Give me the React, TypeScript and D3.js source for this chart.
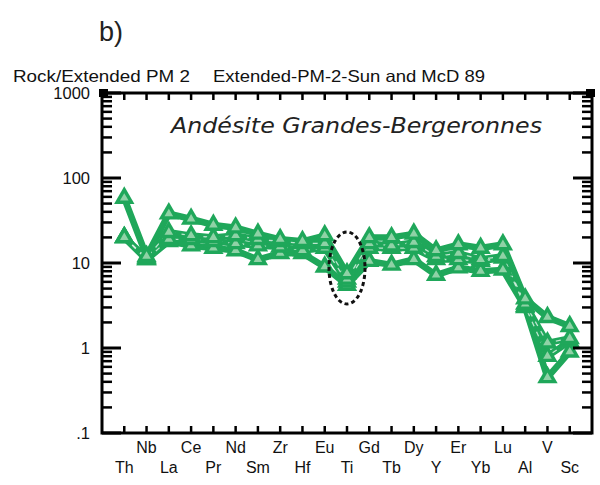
import React from "react";
import * as d3 from "d3";

const elements = ["Th","Nb","La","Ce","Pr","Nd","Sm","Zr","Hf","Eu","Ti","Gd","Tb","Dy","Y","Er","Yb","Lu","Al","V","Sc"];
const sampleA = [58, 12, 38, 33, 28, 26, 22, 19, 18, 21, 7.5, 20, 20, 22, 14, 16.5, 15, 16.5, 3.8, 2.3, 1.8];
const sampleB = [20, 11.5, 23, 21, 20, 21, 19, 18, 17, 17, 6.5, 17, 16, 17.5, 12, 13, 11, 12, 3.3, 1.15, 1.3];
const sampleC = [20, 11, 19, 19, 18, 17, 16, 15.5, 14, 15, 6, 15, 15, 15, 11, 11, 10.5, 11.5, 3.1, 0.8, 1.2];
const sampleD = [20, 11, 18, 16, 15, 14, 11, 13, 13, 9, 5.5, 10.5, 9.5, 11, 7.2, 8.8, 8, 8.3, 3, 0.45, 0.9];
const seriesList = [sampleD, sampleC, sampleB, sampleA];
const yTickValues = [0.1, 1, 10, 100, 1000];
const yTickLabels = [".1", "1", "10", "100", "1000"];
const panelLabel = "b)";
const headerLeft = "Rock/Extended PM 2";
const headerRight = "Extended-PM-2-Sun and McD 89";
const plotTitle = "Andésite Grandes-Bergeronnes";

const GREEN = "#1fa75a";
const LIGHT = "#8fd2a6";

export default function App() {
  const left = 102, right = 592, top = 93, bottom = 433;
  const x = d3.scalePoint<string>().domain(elements).range([left, right]).padding(1);
  const y = d3.scaleLog().domain([0.1, 1000]).range([bottom, top]);
  const line = d3.line<number>().x((_, i) => x(elements[i]) as number).y((v) => y(v));
  const outer = d3.symbol().type(d3.symbolTriangle).size(180)();
  const inner = d3.symbol().type(d3.symbolTriangle).size(32)();

  const minor: number[] = [];
  [0.1, 1, 10, 100].forEach((d) => { for (let k = 2; k <= 9; k++) minor.push(d * k); });

  const font = "'Liberation Sans', Arial, sans-serif";

  return (
    <svg width={600} height={485} style={{ position: "absolute", left: 0, top: 0, background: "#fff" }}>
      <rect x={0} y={0} width={600} height={485} fill="#fff" />
      <text x={99} y={41} fontFamily={font} fontSize={27} fill="#222">{panelLabel}</text>
      <text x={13} y={82} fontFamily={font} fontSize={16.5} fill="#111" textLength={177} lengthAdjust="spacingAndGlyphs">{headerLeft}</text>
      <text x={213} y={82} fontFamily={font} fontSize={16.5} fill="#111" textLength={272} lengthAdjust="spacingAndGlyphs">{headerRight}</text>

      <text x={171} y={133} fontFamily="'DejaVu Sans', sans-serif" fontStyle="italic" fontSize={22} fill="#222"
        textLength={371} lengthAdjust="spacingAndGlyphs">{plotTitle}</text>

      {/* data lines */}
      {seriesList.map((s, si) => (
        <path key={"l" + si} d={line(s) || ""} fill="none" stroke={GREEN} strokeWidth={6.5} strokeLinejoin="round" />
      ))}
      {[sampleC, sampleB].map((s, si) => (
        <path key={"w" + si} d={line(s) || ""} fill="none" stroke="#fff" strokeWidth={1.3} strokeDasharray="5 6" opacity={0.7} />
      ))}
      {seriesList.map((s, si) => (
        <g key={"m" + si}>
          {s.map((v, i) => (
            <g key={i} transform={`translate(${x(elements[i])},${y(v)})`}>
              <path d={outer || ""} fill={GREEN} />
              <path d={inner || ""} fill={LIGHT} />
            </g>
          ))}
        </g>
      ))}

      {/* dotted ellipse around Ti */}
      <ellipse cx={347} cy={268} rx={18} ry={36} fill="none" stroke="#111" strokeWidth={3} strokeDasharray="4 3" />

      {/* frame */}
      <rect x={left} y={top} width={right - left} height={bottom - top} fill="none" stroke="#000" strokeWidth={3} />
      <rect x={left - 3} y={top - 4} width={9} height={8} fill="#000" />
      <rect x={right - 6} y={top - 4} width={9} height={8} fill="#000" />

      {/* x ticks */}
      {elements.map((e) => (
        <g key={"xt" + e}>
          <line x1={x(e)} x2={x(e)} y1={top} y2={top + 7} stroke="#000" strokeWidth={2.5} />
          <line x1={x(e)} x2={x(e)} y1={bottom} y2={bottom - 7} stroke="#000" strokeWidth={2.5} />
        </g>
      ))}
      {/* y ticks */}
      {yTickValues.map((v) => (
        <g key={"ym" + v}>
          <line x1={left} x2={left + 19} y1={y(v)} y2={y(v)} stroke="#000" strokeWidth={3} />
          <line x1={right} x2={right - 19} y1={y(v)} y2={y(v)} stroke="#000" strokeWidth={3} />
        </g>
      ))}
      {minor.map((v) => (
        <g key={"yn" + v}>
          <line x1={left} x2={left + 10} y1={y(v)} y2={y(v)} stroke="#000" strokeWidth={2.5} />
          <line x1={right} x2={right - 10} y1={y(v)} y2={y(v)} stroke="#000" strokeWidth={2.5} />
        </g>
      ))}

      {/* y labels */}
      {yTickValues.map((v, i) => (
        <text key={"yl" + v} x={90} y={y(v) + 6} textAnchor="end" fontFamily={font} fontSize={16.5} fill="#111">{yTickLabels[i]}</text>
      ))}
      {/* x labels */}
      {elements.map((e, i) => (
        <text key={"xl" + e} x={x(e)} y={i % 2 === 1 ? 453 : 473} textAnchor="middle" fontFamily={font} fontSize={16} fill="#111">{e}</text>
      ))}
    </svg>
  );
}
